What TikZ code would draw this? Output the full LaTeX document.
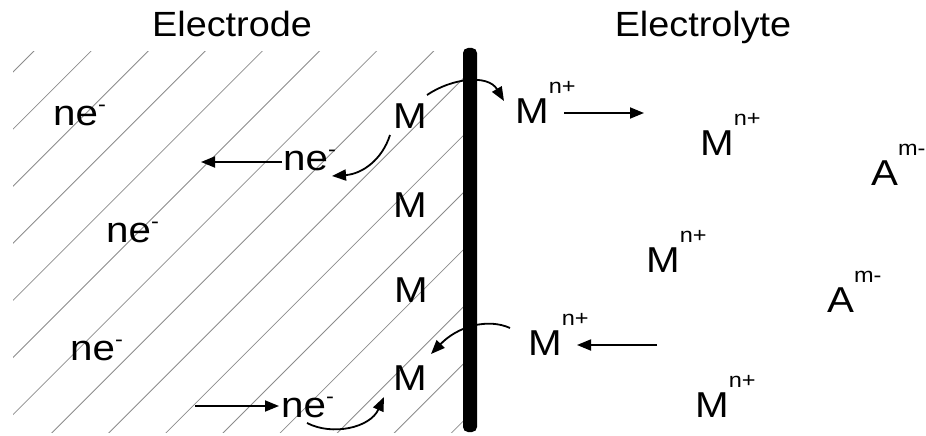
\documentclass[tikz,border=0pt]{standalone}
\usepackage{fontspec}
\setmainfont{Liberation Sans}
\usetikzlibrary{arrows.meta}
\newcommand\hiSup[1]{\raisebox{30pt}{\fontsize{21}{21}\selectfont #1}}
\newcommand\loSup[1]{\raisebox{14pt}{\fontsize{21}{21}\selectfont #1}}
\newcommand\wideTxt[1]{\scalebox{1.12}[1]{#1}}
\newcommand\wideTtl[1]{\scalebox{1.08}[1]{#1}}
\tikzset{
  lbl/.style={anchor=base west, inner sep=0pt, font=\fontsize{36}{36}\selectfont},
  ttl/.style={anchor=base, inner sep=0pt, font=\fontsize{35}{35}\selectfont},
  hatchline/.style={draw=black!45, line width=0.8pt},
  arr/.style={line width=1.8pt, -{Triangle[length=14pt,width=11pt]}},
}
\begin{document}
\begin{tikzpicture}[x=1pt,y=-1pt]
\useasboundingbox (0,0) rectangle (926,436);
% hatching
\begin{scope}
  \clip (13,52) rectangle (464,432);
  \foreach \k in {0,...,16}{
    \pgfmathsetmacro\c{85+57.1*\k}
    \draw[hatchline] (\c-460,460) -- (\c-30,30);
  }
\end{scope}
% electrode bar
\fill[black, rounded corners=5pt] (463,48) rectangle (477,432);
% titles
\node[ttl] (t1) at (232,37) {\wideTtl{Electrode}};
\node[ttl] (t2) at (703,37) {\wideTtl{Electrolyte}};
% M in electrode
\node[lbl] (m1) at (393,128) {\wideTxt{M}};
\node[lbl] (m2) at (393,217) {\wideTxt{M}};
\node[lbl] (m3) at (394,302) {\wideTxt{M}};
\node[lbl] (m4) at (393,390) {\wideTxt{M}};
% electrons
\node[lbl] (e1) at (53,125) {\wideTxt{ne\loSup{-}}};
\node[lbl] (e2) at (283,170) {\wideTxt{ne\loSup{-}}};
\node[lbl] (e3) at (106,242) {\wideTxt{ne\loSup{-}}};
\node[lbl] (e4) at (70,360) {\wideTxt{ne\loSup{-}}};
\node[lbl] (e5) at (281,417) {\wideTxt{ne\loSup{-}}};
% cations
\node[lbl] (c1) at (515,123) {\wideTxt{M\hiSup{n+}}};
\node[lbl] (c2) at (700,155) {\wideTxt{M\hiSup{n+}}};
\node[lbl] (c3) at (646,272) {\wideTxt{M\hiSup{n+}}};
\node[lbl] (c4) at (528,355) {\wideTxt{M\hiSup{n+}}};
\node[lbl] (c5) at (695,417) {\wideTxt{M\hiSup{n+}}};
% anions
\node[lbl] (a1) at (871,185) {\wideTxt{A\hiSup{m-}}};
\node[lbl] (a2) at (827,312) {\wideTxt{A\hiSup{m-}}};
% connector end points
\coordinate (p1s) at (427,95);   \coordinate (p1e) at (504,101);
\coordinate (p2s) at (564,113);  \coordinate (p2e) at (644,113);
\coordinate (p3s) at (390,135);  \coordinate (p3e) at (332,176);
\coordinate (p4s) at (282,162);  \coordinate (p4e) at (201,162);
\coordinate (p5s) at (510,328);  \coordinate (p5e) at (431,354);
\coordinate (p6s) at (657,345);  \coordinate (p6e) at (577,345);
\coordinate (p7s) at (195,406);  \coordinate (p7e) at (279,406);
\coordinate (p8s) at (307,423);  \coordinate (p8e) at (384,397);
% arrows
\draw[arr] (p1s) .. controls (452,78) and (488,74) .. (p1e);
\draw[arr] (p2s) -- (p2e);
\draw[arr] (p3s) .. controls (382,160) and (362,174) .. (p3e);
\draw[arr] (p4s) -- (p4e);
\draw[arr] (p5s) .. controls (488,318) and (458,326) .. (p5e);
\draw[arr] (p6s) -- (p6e);
\draw[arr] (p7s) -- (p7e);
\draw[arr] (p8s) .. controls (332,436) and (370,428) .. (p8e);
\end{tikzpicture}
\end{document}
